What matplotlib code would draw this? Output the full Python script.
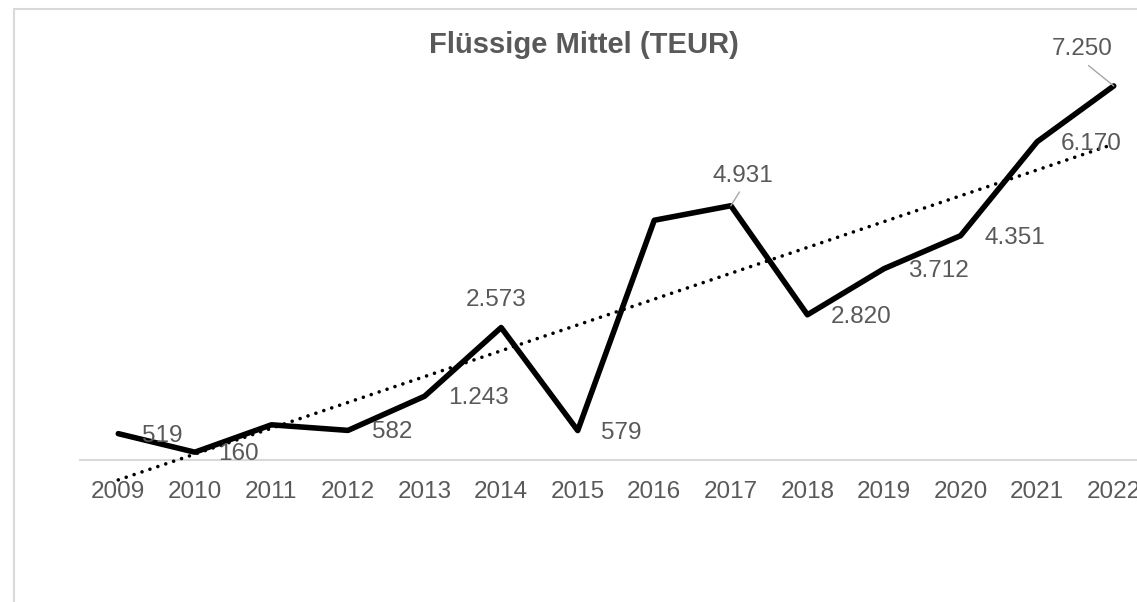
import matplotlib
matplotlib.use('Agg')
import matplotlib.pyplot as plt
from matplotlib.patches import Rectangle
import numpy as np

# Flüssige Mittel in TEUR
years = ['2009', '2010', '2011', '2012', '2013', '2014', '2015',
         '2016', '2017', '2018', '2019', '2020', '2021', '2022']
values = [519, 160, 690, 582, 1243, 2573, 579,
          4650, 4931, 2820, 3712, 4351, 6170, 7250]
# data labels shown in the chart (2011 and 2016 have none)
label_text = ['519', '160', None, '582', '1.243', '2.573', '579',
              None, '4.931', '2.820', '3.712', '4.351', '6.170', '7.250']

GREY_TEXT = '#595959'
GREY_LINE = '#d9d9d9'
FS = 17.5

plt.rcParams['font.family'] = ['Liberation Sans', 'DejaVu Sans']

fig = plt.figure(figsize=(11.37, 6.02), dpi=100)
fig.patch.set_facecolor('white')

# outer chart border (cut off at right and bottom)
fig.patches.append(Rectangle((14 / 1137, -0.1), 1.2, 1.1 - 9 / 602,
                             transform=fig.transFigure, fill=False,
                             edgecolor=GREY_LINE, linewidth=1.5))

ax = fig.add_axes([80 / 1137, 0.0635, 1072 / 1137, 0.8581])
ax.set_facecolor('none')

for s in ax.spines.values():
    s.set_visible(False)
ax.spines['bottom'].set_visible(True)
ax.spines['bottom'].set_position(('data', 0))
ax.spines['bottom'].set_color(GREY_LINE)
ax.spines['bottom'].set_linewidth(1.5)
ax.spines['bottom'].set_zorder(1)

x = np.arange(len(years))
ax.plot(x, values, color='black', linewidth=4.0,
        solid_joinstyle='round', solid_capstyle='round', zorder=3)

# linear trend line
slope, intercept = np.polyfit(x, values, 1)
ax.plot(x, slope * x + intercept, color='black', linewidth=2.6,
        linestyle=(0, (0.01, 2.3)), dash_capstyle='round', zorder=2)

ax.set_xlim(-0.5, len(years) - 0.5)
ax.set_ylim(-2000, 8000)
ax.set_xticks(x)
ax.set_xticklabels(years)
ax.tick_params(axis='x', length=0, pad=14.5, labelsize=FS, labelcolor=GREY_TEXT)
ax.set_yticks([])

# data labels
for i, txt in enumerate(label_text):
    if txt is None:
        continue
    if txt == '7.250':
        ax.annotate(txt, (x[i], values[i]), xytext=(-23, 26.5),
                    textcoords='offset points', ha='center', va='center',
                    fontsize=FS, color=GREY_TEXT,
                    arrowprops=dict(arrowstyle='-', color='#a6a6a6', lw=1,
                                    relpos=(0.5, 0), shrinkA=3, shrinkB=0))
    elif txt == '4.931':
        ax.annotate(txt, (x[i], values[i]), xytext=(8.5, 21.5),
                    textcoords='offset points', ha='center', va='center',
                    fontsize=FS, color=GREY_TEXT,
                    arrowprops=dict(arrowstyle='-', color='#a6a6a6', lw=1,
                                    relpos=(0.5, 0), shrinkA=2, shrinkB=0))
    elif txt == '2.573':
        ax.annotate(txt, (x[i], values[i]), xytext=(-3.5, 19.5),
                    textcoords='offset points', ha='center', va='center',
                    fontsize=FS, color=GREY_TEXT)
    else:
        ax.annotate(txt, (x[i], values[i]), xytext=(17, -1.5),
                    textcoords='offset points', ha='left', va='center',
                    fontsize=FS, color=GREY_TEXT)

fig.text(584 / 1137, 1 - 53 / 602, 'Flüssige Mittel (TEUR)', ha='center',
         va='baseline', fontsize=21, fontweight='bold', color=GREY_TEXT)

fig.savefig('out.png', dpi=100)
